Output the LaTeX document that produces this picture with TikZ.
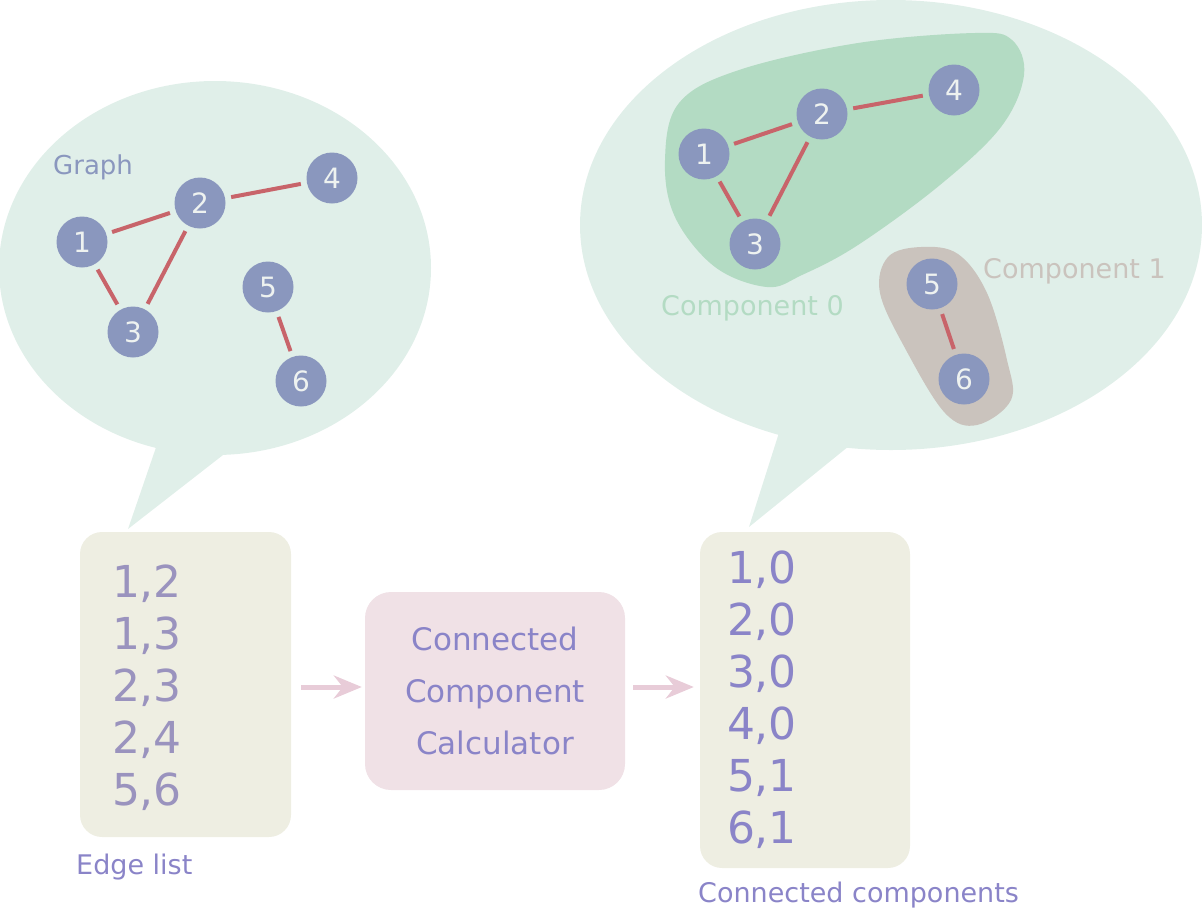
\documentclass[tikz,border=0pt]{standalone}
\usepackage{fontspec}
\setmainfont{DejaVu Sans}
\usepackage{tikz}
\usetikzlibrary{arrows.meta}

\definecolor{bubble}{HTML}{E0EFE9}
\definecolor{vertexfill}{HTML}{8A97BE}
\definecolor{vertextext}{HTML}{EEF2F0}
\definecolor{link}{HTML}{C8646A}
\definecolor{compzero}{HTML}{B3DBC3}
\definecolor{compone}{HTML}{CAC3BD}
\definecolor{listfill}{HTML}{EEEEE2}
\definecolor{calcfill}{HTML}{F0E1E6}
\definecolor{listtext}{HTML}{9A93BE}
\definecolor{outtext}{HTML}{8A84C8}
\definecolor{flow}{HTML}{E8CCD8}

\begin{document}
\begin{tikzpicture}[
		x=1pt, y=-1pt,
		vertex/.style={circle, fill=vertexfill, text=vertextext, minimum size=51pt, inner sep=0pt, font=\fontsize{28}{33}\selectfont},
		link/.style={draw=link, line width=4pt, shorten >=6pt, shorten <=6pt},
		caption/.style={anchor=west, inner sep=0pt, font=\fontsize{27}{32}\selectfont},
		listbox/.style={rectangle, rounded corners=22pt, fill=listfill, align=left, inner ysep=0pt, font=\fontsize{44}{52}\selectfont},
		flowarrow/.style={draw=flow, line width=5pt, -{Stealth[length=28pt, width=23pt, inset=9pt]}}
	]
  \useasboundingbox (0,0) rectangle (1202,911);

  % speech bubbles
  \fill[bubble] (215,268) ellipse [x radius=216, y radius=187];
  \fill[bubble] (163,427) -- (128,529) -- (250,434) -- cycle;
  \fill[bubble] (891,225) ellipse [x radius=311, y radius=225];
  \fill[bubble] (784,417) -- (749,527) -- (870,429) -- cycle;

  % component regions
  \fill[compzero] plot[smooth cycle, tension=0.6] coordinates {(975,33) (1012,40) (1024,75) (1001,127) (940,185) (858,245) (802,275) (767,287) (715,267) (675,217) (665,160) (679,103) (739,70) (858,43)};
  \fill[compone] plot[smooth cycle, tension=0.6] coordinates {(921,247) (958,254) (987,293) (1007,360) (1011,400) (977,425) (945,413) (906,350) (880,293) (888,257)};

  % input graph
  \node (graph_label) [caption, text=vertexfill, font=\fontsize{26}{31}\selectfont] at (53,167) {Graph};
  \node (a1) [vertex] at (82,242) {1};
  \node (a2) [vertex] at (200,203) {2};
  \node (a3) [vertex] at (133,332) {3};
  \node (a4) [vertex] at (332,178) {4};
  \node (a5) [vertex] at (268,287) {5};
  \node (a6) [vertex] at (301,381) {6};
  \draw[link] (a1) -- (a2);
  \draw[link] (a1) -- (a3);
  \draw[link] (a2) -- (a3);
  \draw[link] (a2) -- (a4);
  \draw[link] (a5) -- (a6);

  % labelled graph
  \node (b1) [vertex] at (704,154) {1};
  \node (b2) [vertex] at (822,114) {2};
  \node (b3) [vertex] at (755,244) {3};
  \node (b4) [vertex] at (954,90) {4};
  \node (b5) [vertex] at (932,284) {5};
  \node (b6) [vertex] at (964,379) {6};
  \draw[link] (b1) -- (b2);
  \draw[link] (b1) -- (b3);
  \draw[link] (b2) -- (b3);
  \draw[link] (b2) -- (b4);
  \draw[link] (b5) -- (b6);
  \node (comp0_label) [caption, text=compzero] at (661,308) {Component 0};
  \node (comp1_label) [caption, text=compone] at (983,271) {Component 1};

  % pipeline
  \node (edges) [listbox, text=listtext, text width=147pt, inner xsep=32pt, minimum height=305pt] at (185.5,684.5) {\rule{0pt}{40pt}1,2\\1,3\\2,3\\2,4\\5,6};
  \node (calc) [rectangle, rounded corners=26pt, fill=calcfill, text=outtext, align=center, minimum width=260pt, minimum height=198pt, font=\fontsize{31}{52}\selectfont] at (495,691) {Connected\\Component\\Calculator};
  \node (result) [listbox, text=outtext, text width=156pt, inner xsep=27pt, minimum height=336pt] at (805,700) {1,0\\2,0\\3,0\\4,0\\5,1\\6,1};
  \draw[flowarrow, shorten <=10pt, shorten >=3pt] (edges.east |- 0,687) -- (calc.west |- 0,687);
  \draw[flowarrow, shorten <=8pt, shorten >=6pt] (calc.east |- 0,687) -- (result.west |- 0,687);

  \node (edges_label) [caption, text=outtext] at (76,867) {Edge list};
  \node (result_label) [caption, text=outtext] at (698,895) {Connected components};
\end{tikzpicture}
\end{document}
